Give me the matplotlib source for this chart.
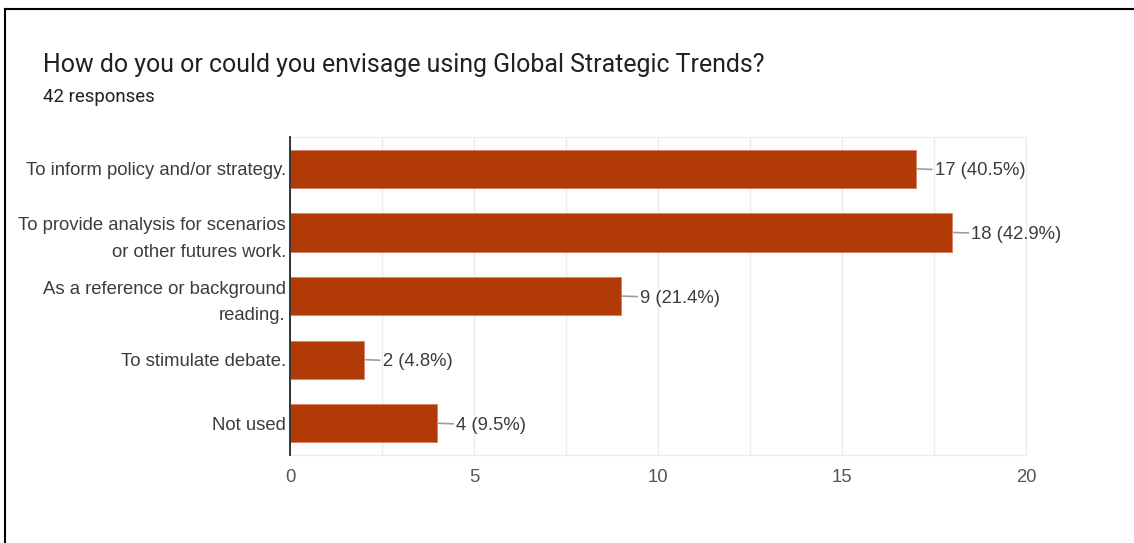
import matplotlib.pyplot as plt
from matplotlib.lines import Line2D

# survey answers, top to bottom
labels = [
    "To inform policy and/or strategy.",
    "To provide analysis for scenarios\nor other futures work.",
    "As a reference or background\nreading.",
    "To stimulate debate.",
    "Not used",
]
counts = [17, 18, 9, 2, 4]
percents = [40.5, 42.9, 21.4, 4.8, 9.5]
total = 42

title = "How do you or could you envisage using Global Strategic Trends?"
subtitle = f"{total} responses"

bar_color = "#B23A06"
text_color = "#3c3c3c"
fs = 13.3

fig = plt.figure(figsize=(11.34, 5.43), dpi=100)
ax = fig.add_axes([0.2557, 0.162, 0.649, 0.5856])

ypos = list(range(len(labels)))
ax.barh(ypos, counts, height=0.6, color=bar_color, edgecolor="#d9806a",
        linewidth=0.6, zorder=3)

# value labels with a short leader line
for y, c, p in zip(ypos, counts, percents):
    ax.annotate(f"{c} ({p}%)", xy=(c, y), xytext=(19, 0),
                textcoords="offset pixels",
                ha="left", va="center_baseline", fontsize=fs, color=text_color,
                family="Liberation Sans",
                arrowprops=dict(arrowstyle="-", color="#9e9e9e", lw=1.2,
                                shrinkA=0, shrinkB=1))

ax.set_xlim(0, 20)
ax.set_ylim(len(labels) - 0.5, -0.5)
ax.set_xticks([0, 5, 10, 15, 20])
ax.set_xticks([2.5, 7.5, 12.5, 17.5], minor=True)
ax.set_yticks(ypos)
ax.set_yticklabels(labels, fontsize=fs, color=text_color,
                   family="Liberation Sans", linespacing=1.7)
for t in ax.get_yticklabels():
    t.set_va("center_baseline")
for t in ax.get_xticklabels():
    t.set_fontsize(fs)
    t.set_color("#555555")
    t.set_family("Liberation Sans")

ax.grid(True, axis="x", which="both", color="#ebebeb", lw=1.0, zorder=0)
ax.tick_params(axis="both", which="both", length=0)
ax.tick_params(axis="x", pad=10)
ax.tick_params(axis="y", pad=3)

for s in ["top", "right", "bottom"]:
    ax.spines[s].set_color("#ebebeb")
ax.spines["left"].set_color("#333333")
ax.spines["left"].set_linewidth(1.4)
ax.spines["left"].set_zorder(4)

fig.text(43 / 1134, 1 - 65 / 543, title, fontsize=17.9, color="#202124",
         family="Roboto", va="center", ha="left")
fig.text(43 / 1134, 1 - 97 / 543, subtitle, fontsize=13.4, color="#202124",
         family="Roboto", va="center", ha="left")

# screenshot frame: top and left border
fig.add_artist(Line2D([5 / 1134, 1], [1 - 9 / 543, 1 - 9 / 543],
                      color="black", lw=1.5, transform=fig.transFigure))
fig.add_artist(Line2D([5 / 1134, 5 / 1134], [0, 1 - 9 / 543],
                      color="black", lw=1.5, transform=fig.transFigure))

fig.savefig("out.png", dpi=100, facecolor="white")
